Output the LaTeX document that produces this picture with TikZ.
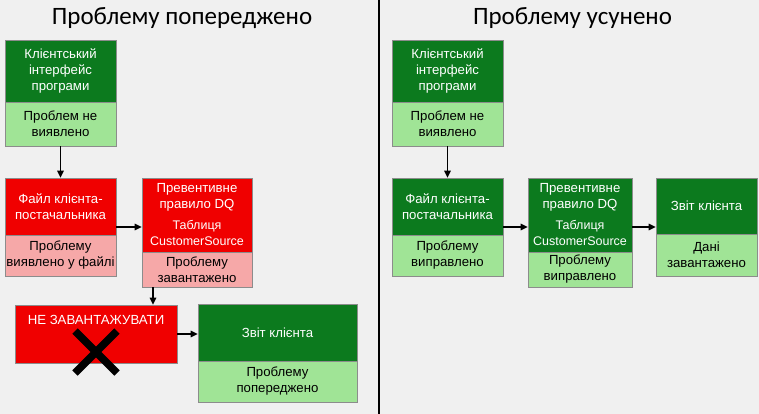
\documentclass[tikz,border=0pt]{standalone}
\usepackage{fontspec}
\setmainfont{Liberation Sans}
\newfontfamily\titlefont{Carlito}
\usetikzlibrary{arrows.meta}
\definecolor{bgc}{RGB}{240,240,240}
\definecolor{dkgreen}{RGB}{12,122,30}
\definecolor{ltgreen}{RGB}{160,228,150}
\definecolor{dkred}{RGB}{240,0,0}
\definecolor{ltred}{RGB}{246,168,168}
\definecolor{edgec}{RGB}{140,140,140}
\begin{document}
\begin{tikzpicture}[x=1pt,y=-1pt,
  boxbase/.style={draw=edgec, line width=0.6pt, inner sep=0pt, align=center,
    font=\fontsize{13.2}{16}\selectfont},
  gtop/.style={boxbase, fill=dkgreen, text=white},
  gbot/.style={boxbase, fill=ltgreen, text=black},
  rtop/.style={boxbase, fill=dkred, text=white},
  rbot/.style={boxbase, fill=ltred, text=black},
  ttl/.style={font=\titlefont\fontsize{25}{30}\selectfont, text=black},
  arr/.style={line width=1.5pt, -{Triangle[length=7pt,width=6.5pt]}}
]
\fill[bgc] (0,0) rectangle (759,414);
\useasboundingbox (0,0) rectangle (759,414);
\draw[line width=2pt, black] (379,0) -- (379,414);

% titles
\node[ttl] (t1) at (182,18) {Проблему попереджено};
\node[ttl] (t2) at (572.5,18) {Проблему усунено};

% ---------- left panel ----------
\node[gtop, minimum width=111pt, minimum height=62pt] (l1t) at (60.5,71) {Клієнтський\\інтерфейс\\програми};
\node[gbot, minimum width=111pt, minimum height=44pt] (l1b) at (60.5,124) {Проблем не\\виявлено};

\node[rtop, minimum width=111pt, minimum height=57pt] (l2t) at (60.5,206.5) {Файл клієнта-\\постачальника};
\node[rbot, minimum width=111pt, minimum height=41pt] (l2b) at (60.5,255.5) {Проблему\\виявлено у файлі};

\node[rtop, minimum width=110pt, minimum height=74pt] (l3t) at (197,215) {Превентивне\\правило DQ\\[5pt]{\fontsize{12.5}{15}\selectfont Таблиця}\\{\fontsize{12.5}{15}\selectfont CustomerSource}};
\node[rbot, minimum width=110pt, minimum height=35pt] (l3b) at (197,269.5) {Проблему\\завантажено};

\node[rtop, minimum width=162pt, minimum height=58pt] (l4) at (96,334) {};
\node[text=white, font=\fontsize{13.2}{16}\selectfont, inner sep=0pt] (l4txt) at (96,320) {НЕ ЗАВАНТАЖУВАТИ};
\coordinate (xc) at (96,352);
\draw[line width=7.5pt, black] ([shift={(-21pt,21pt)}]xc) -- ([shift={(21pt,-21pt)}]xc);
\draw[line width=7.5pt, black] ([shift={(-21pt,-21pt)}]xc) -- ([shift={(21pt,21pt)}]xc);

\node[gtop, minimum width=159pt, minimum height=57pt] (l5t) at (277.5,332.5) {Звіт клієнта};
\node[gbot, minimum width=159pt, minimum height=41pt] (l5b) at (277.5,381.5) {Проблему\\попереджено};

\draw[arr] (l1b.south) -- (l2t.north);
\draw[arr] ([yshift=-20.5pt]l2t.east) -- ([yshift=-20.5pt]l2t.east -| l3t.west);
\draw[arr] ([xshift=-44pt]l3b.south) -- ([xshift=-44pt]l3b.south |- l4.north);
\draw[arr] (l4.east) -- (l4.east -| l5t.west);

% ---------- right panel ----------
\node[gtop, minimum width=111pt, minimum height=62pt] (r1t) at (447.5,71) {Клієнтський\\інтерфейс\\програми};
\node[gbot, minimum width=111pt, minimum height=44pt] (r1b) at (447.5,124) {Проблем не\\виявлено};

\node[gtop, minimum width=111pt, minimum height=57pt] (r2t) at (447.5,206.5) {Файл клієнта-\\постачальника};
\node[gbot, minimum width=111pt, minimum height=41pt] (r2b) at (447.5,255.5) {Проблему\\виправлено};

\node[gtop, minimum width=104pt, minimum height=74pt] (r3t) at (580,215) {Превентивне\\правило DQ\\[5pt]{\fontsize{12.5}{15}\selectfont Таблиця}\\{\fontsize{12.5}{15}\selectfont CustomerSource}};
\node[gbot, minimum width=104pt, minimum height=35pt] (r3b) at (580,269.5) {Проблему\\виправлено};

\node[gtop, minimum width=101pt, minimum height=56pt] (r4t) at (706.5,206) {Звіт клієнта};
\node[gbot, minimum width=101pt, minimum height=42pt] (r4b) at (706.5,255) {Дані\\завантажено};

\draw[arr] (r1b.south) -- (r2t.north);
\draw[arr] ([yshift=-20.5pt]r2t.east) -- ([yshift=-20.5pt]r2t.east -| r3t.west);
\draw[arr] ([yshift=-12pt]r3t.east) -- ([yshift=-12pt]r3t.east -| r4t.west);
\end{tikzpicture}
\end{document}
